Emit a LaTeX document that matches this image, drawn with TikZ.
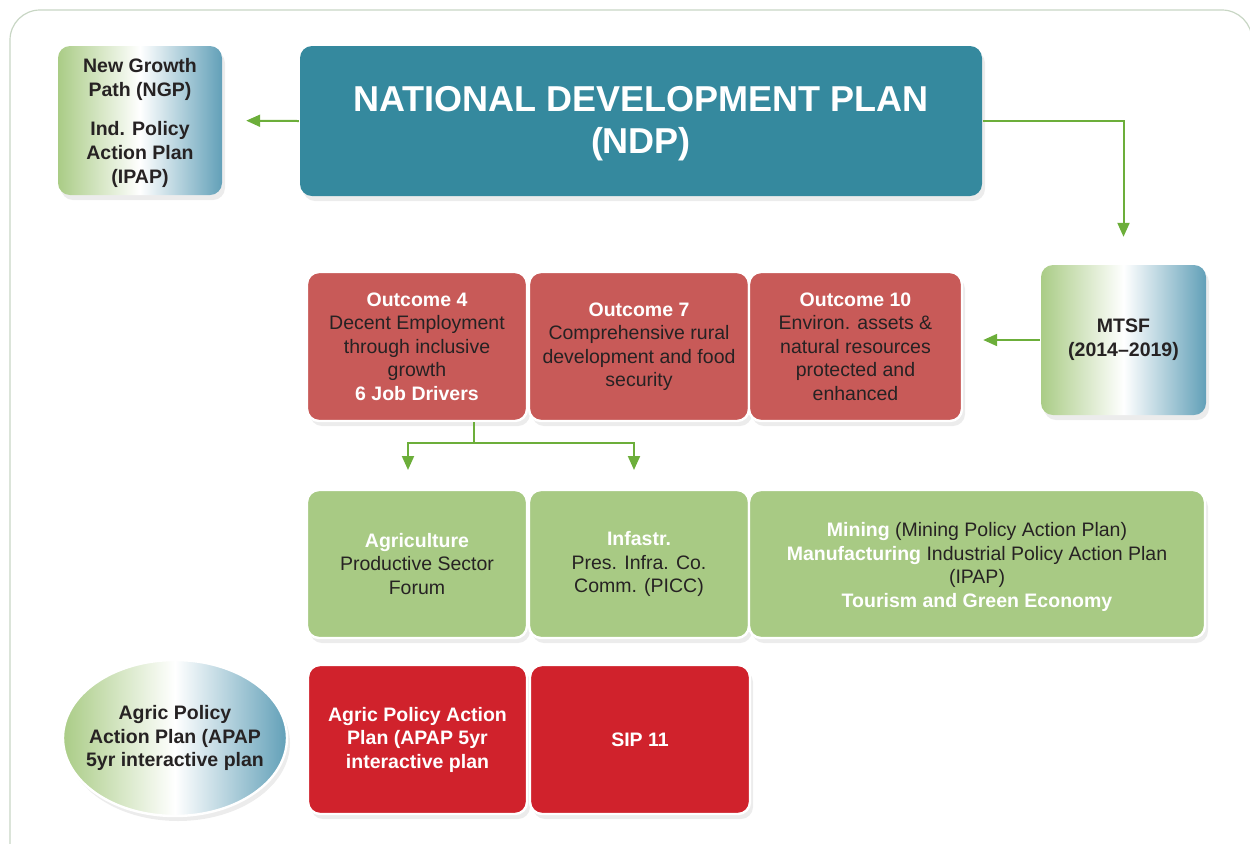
\documentclass[tikz,border=0pt]{standalone}
\usepackage{fontspec}
\setmainfont{Liberation Sans}
\usetikzlibrary{arrows.meta,shadows,shapes.geometric}
\definecolor{teal}{RGB}{53,137,158}
\definecolor{ored}{RGB}{200,90,88}
\definecolor{lgreen}{RGB}{168,202,132}
\definecolor{sred}{RGB}{208,34,44}
\definecolor{agreen}{RGB}{108,174,58}
\definecolor{ggreen}{RGB}{170,204,134}
\definecolor{gblue}{RGB}{98,160,184}
\definecolor{dtext}{RGB}{38,34,35}
\definecolor{frame}{RGB}{200,214,196}
\tikzset{
  box/.style={draw=white, line width=1.2pt, rounded corners=6pt, inner sep=0pt, align=center,
    font=\fontsize{9.75}{11.75}\selectfont,
    drop shadow={opacity=0.15, shadow xshift=1.5pt, shadow yshift=-2.5pt}},
  gradbox/.style={box, draw=none, left color=ggreen, right color=gblue, middle color=white,
    text=dtext, font=\fontsize{9.75}{12}\selectfont\bfseries},
  ndpbox/.style={box, draw=none, fill=teal},
  ndptext/.style={inner sep=0pt, align=center, text=white, font=\fontsize{18}{21}\selectfont\bfseries},
  outbox/.style={box, fill=ored, text=dtext},
  grnbox/.style={box, fill=lgreen, text=dtext},
  redbox/.style={box, fill=sred, text=white, font=\fontsize{9.75}{11.75}\selectfont\bfseries},
  link/.style={draw=agreen, line width=1pt, -{Triangle[length=7pt,width=6pt]}},
  eltext/.style={inner sep=0pt, align=center, text=dtext, font=\fontsize{9.75}{11.75}\selectfont\bfseries},
  boxtext/.style={inner sep=0pt, align=center, text=dtext, font=\fontsize{9.75}{11.75}\selectfont}
}
\newcommand{\wb}[1]{\textcolor{white}{\bfseries #1}}
\begin{document}
\begin{tikzpicture}[x=0.5pt,y=-0.5pt]
\useasboundingbox (0,0) rectangle (1250,843);
\begin{scope}
\clip (0,0) rectangle (1250,843);
\draw[frame, line width=0.6pt, rounded corners=15pt] (10,10) rectangle (1252,875);
\end{scope}

\node[gradbox, minimum width=82pt, minimum height=74.5pt] (ngp) at (140,120.5) {};
\node[eltext, font=\fontsize{9.75}{12}\selectfont\bfseries] (ngpt) at (140,123)
  {New Growth\\Path (NGP)\\[7.5pt]Ind. Policy\\Action Plan\\(IPAP)};
\node[ndpbox, minimum width=341pt, minimum height=75pt] (ndp) at (641,121) {};
\node[ndptext] (ndpt) at (641,124) {NATIONAL DEVELOPMENT PLAN\\(NDP)};
\node[gradbox, minimum width=82.5pt, minimum height=75pt] (mtsf) at (1123.5,340)
  {MTSF\\(2014--2019)};

\node[outbox, minimum width=110pt, minimum height=74.5pt] (o4) at (417,346.5)
  {\wb{Outcome 4}\\Decent Employment\\through inclusive\\growth\\\wb{6 Job Drivers}};
\node[outbox, minimum width=110pt, minimum height=74.5pt] (o7) at (639,346.5)
  {\wb{Outcome 7}\\Comprehensive rural\\development and food\\security};
\node[outbox, minimum width=106.5pt, minimum height=74.5pt] (o10) at (855.5,346.5)
  {\wb{Outcome 10}\\Environ. assets \&\\natural resources\\protected and\\enhanced};

\node[grnbox, minimum width=110pt, minimum height=74pt] (agri) at (417,564)
  {\wb{Agriculture}\\Productive Sector\\Forum};
\node[grnbox, minimum width=110pt, minimum height=74pt] (infra) at (639,564)
  {\wb{Infastr.}\\Pres. Infra. Co.\\Comm. (PICC)};
\node[grnbox, minimum width=228pt, minimum height=74pt] (mine) at (977,564) {};
\node[boxtext] (minet) at (977,567)
  {\wb{Mining} (Mining Policy Action Plan)\\\wb{Manufacturing} Industrial Policy Action Plan\\(IPAP)\\\wb{Tourism and Green Economy}};

\node[gradbox, ellipse, draw=white, line width=1.2pt, minimum width=112pt, minimum height=78pt] (apel) at (175,738) {};
\node[eltext] (apelt) at (apel.center) {Agric Policy\\Action Plan (APAP\\5yr interactive plan};
\node[redbox, minimum width=109.5pt, minimum height=74.5pt] (apap) at (417.5,739.5)
  {Agric Policy Action\\Plan (APAP 5yr\\interactive plan};
\node[redbox, minimum width=110pt, minimum height=74.5pt] (sip) at (640,739.5)
  {SIP 11};

% connectors
\draw[link, shorten >=11.5pt] (ndp.west) -- (ngp.east);
\draw[link, shorten >=13.5pt] (ndp.east) -| (mtsf.north);
\draw[link, shorten >=10pt] (mtsf.west) -- (mtsf.west -| o10.east);
\coordinate (j) at (474,443);
\coordinate (t1) at (408,470);
\coordinate (t2) at (634,470);
\draw[agreen, line width=1pt] (o4.south -| j) -- (j);
\draw[link] (j) -| (t1);
\draw[link] (j) -| (t2);
\end{tikzpicture}
\end{document}
